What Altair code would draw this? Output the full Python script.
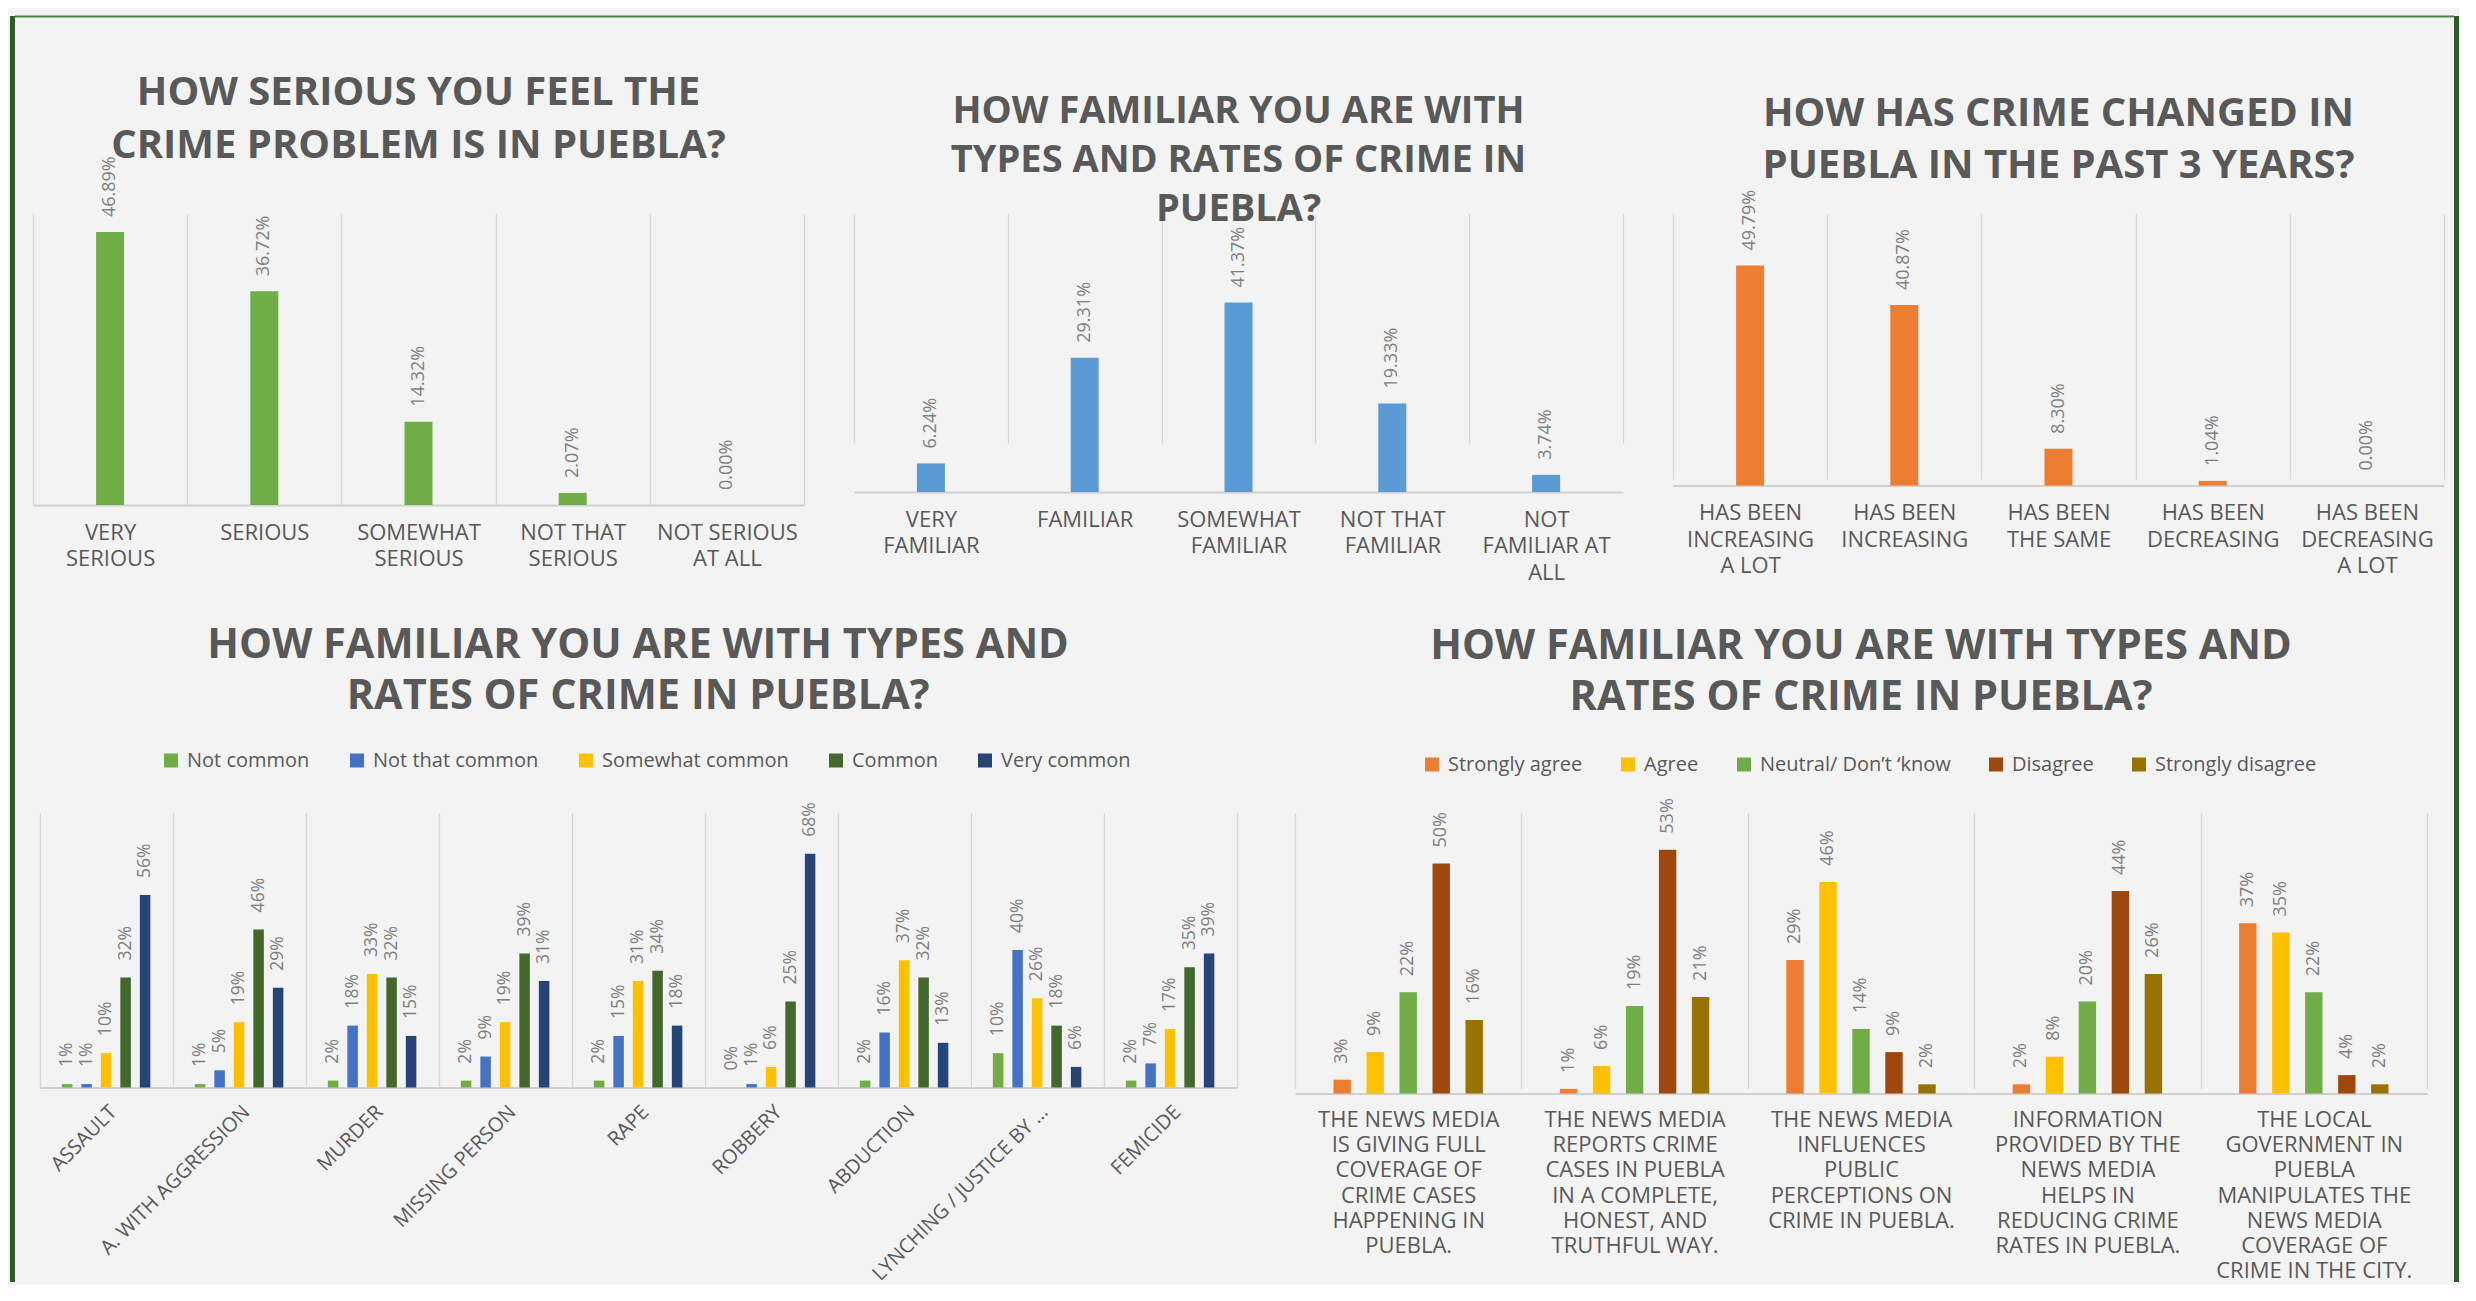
import altair as alt
import pandas as pd

# ---------------- data ----------------
sev_cats = ["VERY\nSERIOUS", "SERIOUS", "SOMEWHAT\nSERIOUS", "NOT THAT\nSERIOUS", "NOT SERIOUS\nAT ALL"]
sev_vals = [46.89, 36.72, 14.32, 2.07, 0.00]

fam_cats = ["VERY\nFAMILIAR", "FAMILIAR", "SOMEWHAT\nFAMILIAR", "NOT THAT\nFAMILIAR", "NOT\nFAMILIAR AT\nALL"]
fam_vals = [6.24, 29.31, 41.37, 19.33, 3.74]

chg_cats = ["HAS BEEN\nINCREASING\nA LOT", "HAS BEEN\nINCREASING", "HAS BEEN\nTHE SAME",
            "HAS BEEN\nDECREASING", "HAS BEEN\nDECREASING\nA LOT"]
chg_vals = [49.79, 40.87, 8.30, 1.04, 0.00]

crime_types = ["ASSAULT", "A. WITH AGGRESSION", "MURDER", "MISSING PERSON", "RAPE",
               "ROBBERY", "ABDUCTION", "LYNCHING / JUSTICE BY …", "FEMICIDE"]
freq_series = ["Not common", "Not that common", "Somewhat common", "Common", "Very common"]
freq_colors = ["#70AD47", "#4472C4", "#FFC000", "#43682B", "#264478"]
not_common = [1, 1, 2, 2, 2, 0, 2, 10, 2]
not_that_common = [1, 5, 18, 9, 15, 1, 16, 40, 7]
somewhat_common = [10, 19, 33, 19, 31, 6, 37, 26, 17]
common = [32, 46, 32, 39, 34, 25, 32, 18, 35]
very_common = [56, 29, 15, 31, 18, 68, 13, 6, 39]

statements = [
    "THE NEWS MEDIA\nIS GIVING FULL\nCOVERAGE OF\nCRIME CASES\nHAPPENING IN\nPUEBLA.",
    "THE NEWS MEDIA\nREPORTS CRIME\nCASES IN PUEBLA\nIN A COMPLETE,\nHONEST, AND\nTRUTHFUL WAY.",
    "THE NEWS MEDIA\nINFLUENCES\nPUBLIC\nPERCEPTIONS ON\nCRIME IN PUEBLA.",
    "INFORMATION\nPROVIDED BY THE\nNEWS MEDIA\nHELPS IN\nREDUCING CRIME\nRATES IN PUEBLA.",
    "THE LOCAL\nGOVERNMENT IN\nPUEBLA\nMANIPULATES THE\nNEWS MEDIA\nCOVERAGE OF\nCRIME IN THE CITY.",
]
agree_series = ["Strongly agree", "Agree", "Neutral/ Don’t ‘know", "Disagree", "Strongly disagree"]
agree_colors = ["#ED7D31", "#FFC000", "#70AD47", "#9E480E", "#997300"]
strongly_agree = [3, 1, 29, 2, 37]
agree = [9, 6, 46, 8, 35]
neutral = [22, 19, 14, 20, 22]
disagree = [50, 53, 9, 44, 4]
strongly_disagree = [16, 21, 2, 26, 2]

title_sev = ["HOW SERIOUS YOU FEEL THE", "CRIME PROBLEM IS IN PUEBLA?"]
title_fam = ["HOW FAMILIAR YOU ARE WITH", "TYPES AND RATES OF CRIME IN", "PUEBLA?"]
title_chg = ["HOW HAS CRIME CHANGED IN", "PUEBLA IN THE PAST 3 YEARS?"]
title_types = ["HOW FAMILIAR YOU ARE WITH TYPES AND", "RATES OF CRIME IN PUEBLA?"]
title_media = ["HOW FAMILIAR YOU ARE WITH TYPES AND", "RATES OF CRIME IN PUEBLA?"]

# ---------------- style ----------------
FONT = "Open Sans"
TXT = "#595959"
VAL = "#7f7f7f"
GRID = "#d9d9d9"
FRAME = "#2e5b28"
FRAME2 = "#4f7f49"
ANCHOR_Y = -200  # invisible reference line above every panel, so titles sit predictably

one_row = pd.DataFrame({"f": [0]})


def anchor():
    return alt.Chart(one_row).mark_rule(opacity=0, strokeWidth=1).encode(
        x=alt.value(0), x2=alt.value(1), y=alt.value(ANCHOR_Y))


def cat_axis(**kw):
    base = dict(title=None, grid=True, gridColor=GRID, gridWidth=1.3, tickBand="extent", ticks=False,
                domainColor="#d0d0d0", domainWidth=2, labelFont=FONT, labelColor=TXT,
                labelLimit=600, labelOverlap=False)
    base.update(kw)
    return alt.Axis(**base)


def make_title(lines, size, lh, off, dx=0):
    return alt.TitleParams(text=lines, font=FONT, fontSize=size, fontWeight="bold", color=TXT,
                           anchor="middle", frame="group", baseline="bottom", lineHeight=lh,
                           offset=off, dx=dx)


def single_chart(field, cats, vals, color, ymax, w, h, yrange, ttl, extra):
    df = pd.DataFrame({field: cats, "pct": vals})
    base = alt.Chart(df).encode(
        x=alt.X(f"{field}:N", sort=cats, scale=alt.Scale(paddingInner=0, paddingOuter=0),
                axis=cat_axis(labelAngle=0, labelFontSize=22, labelPadding=17, labelLineHeight=26.5,
                              labelBaseline="top", labelExpr="split(datum.label, '\\n')")),
        y=alt.Y("pct:Q", scale=alt.Scale(domain=[0, ymax], nice=False, range=yrange), axis=None),
    )
    bars = base.mark_bar(size=28, color=color)
    labels = base.transform_calculate(lbl="format(datum.pct, '.2f') + '%'").mark_text(
        angle=270, align="left", baseline="middle", dx=15, font=FONT, fontSize=18, color=VAL
    ).encode(text="lbl:N")
    return alt.layer(bars, labels, *extra).properties(width=w, height=h, title=ttl)


def grouped_chart(cat_field, cats, ser_field, series, colors, matrix, ymax, w, h, xrange, yrange,
                  ttl, axis, legend, xo_pad, bar_w, fsize, dx):
    rows = []
    for s, vals in zip(series, matrix):
        for c, v in zip(cats, vals):
            rows.append({cat_field: c, ser_field: s, "pct": v})
    df = pd.DataFrame(rows)
    base = alt.Chart(df).encode(
        x=alt.X(f"{cat_field}:N", sort=cats,
                scale=alt.Scale(paddingInner=0, paddingOuter=0, range=xrange), axis=axis),
        xOffset=alt.XOffset(f"{ser_field}:N", sort=series,
                            scale=alt.Scale(paddingInner=xo_pad, paddingOuter=1)),
        y=alt.Y("pct:Q", scale=alt.Scale(domain=[0, ymax], nice=False, range=yrange), axis=None),
    )
    bars = base.mark_bar(size=bar_w).encode(
        color=alt.Color(f"{ser_field}:N", sort=series, scale=alt.Scale(domain=series, range=colors),
                        legend=legend)
    )
    labels = base.transform_calculate(lbl="datum.pct + '%'").mark_text(
        angle=270, align="left", baseline="middle", dx=dx, font=FONT, fontSize=fsize, color=VAL
    ).encode(text="lbl:N")
    return alt.layer(bars, labels, anchor()).properties(width=w, height=h, title=ttl)


def legend(x, y, pad):
    return alt.Legend(title=None, orient="none", legendX=x, legendY=y, direction="horizontal",
                      columns=5, symbolType="square", symbolSize=196, symbolStrokeWidth=0,
                      symbolOffset=0, labelOffset=6, labelFont=FONT, labelFontSize=20,
                      labelColor=TXT, columnPadding=pad, padding=0, labelLimit=400)


# decorative frame (pixel offsets relative to the first panel)
frame_left = alt.Chart(one_row).mark_rule(color=FRAME, strokeWidth=5).encode(
    x=alt.value(-20.5), y=alt.value(-198), y2=alt.value(1068))
frame_right = alt.Chart(one_row).mark_rule(color=FRAME, strokeWidth=5).encode(
    x=alt.value(2423.5), y=alt.value(-198), y2=alt.value(1068))
frame_top = alt.Chart(one_row).mark_rule(color=FRAME2, strokeWidth=2).encode(
    x=alt.value(-18), x2=alt.value(2421), y=alt.value(-197.5))

c1 = single_chart("sev", sev_cats, sev_vals, "#70AD47", 50, 771, 291, [291, 0],
                  make_title(title_sev, 40, 52.5, -192), (frame_left, frame_right, frame_top))
c2 = single_chart("fam", fam_cats, fam_vals, "#5B9BD5", 50, 769, 278, [278, 49],
                  make_title(title_fam, 38, 49, -252.9), (anchor(),))
c3 = single_chart("chg", chg_cats, chg_vals, "#ED7D31", 60, 771, 271.5, [271.5, 6.5],
                  make_title(title_chg, 40, 51.5, -211.7), (anchor(),))

# bottom panels sit in the grid cells of the first two columns; their scale ranges
# place the plotting area where the reference has it
bl = grouped_chart(
    "crime", crime_types, "Frequency", freq_series, freq_colors,
    [not_common, not_that_common, somewhat_common, common, very_common],
    80, 771, 275, [6.6, 1203.6], [275, 0], make_title(title_types, 41.5, 51.5, -147.4, dx=219.6),
    cat_axis(labelAngle=315, labelAlign="right", labelBaseline="top", labelFontSize=20, labelPadding=14),
    legend(128, -62, 37), 0.18, 10.5, 17.5, 17)

br = grouped_chart(
    "statement", statements, "Agreement", agree_series, agree_colors,
    [strongly_agree, agree, neutral, disagree, strongly_disagree],
    60, 769, 281, [441, 1573], [281, 5], make_title(title_media, 41.5, 51.5, -148.4, dx=622.5),
    cat_axis(labelAngle=0, labelBaseline="top", labelFontSize=22, labelPadding=16, labelLineHeight=25.2,
             labelExpr="split(datum.label, '\\n')"),
    legend(568, -58, 35), 0.14, 17.4, 18, 16)

chart = alt.concat(
    c1, c2, c3, bl, br,
    columns=3,
    spacing=alt.RowColnumber(row=307.5, column=50),
    bounds="flush",
).resolve_scale(
    color="independent", xOffset="independent", x="independent", y="independent"
).properties(
    padding={"left": 2, "top": 5, "right": 0, "bottom": 0}
).configure(
    background="#f3f3f3", font=FONT
).configure_view(strokeWidth=0)

chart.save("out.html", embed_options={"renderer": "svg", "actions": False})
